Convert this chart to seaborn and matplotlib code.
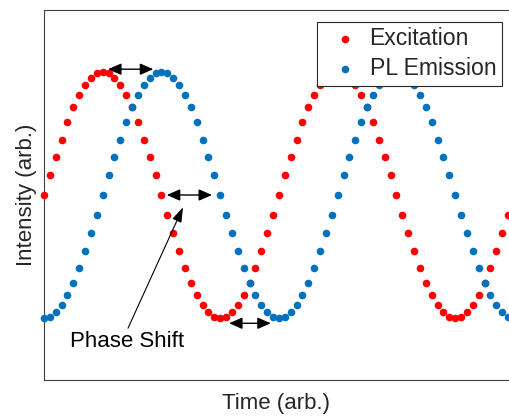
import matplotlib
matplotlib.use("Agg")
import matplotlib.pyplot as plt
import seaborn as sns
import numpy as np

# Sample values (intensity, arbitrary units)
excitation = [
    0.00, 0.16, 0.31, 0.45, 0.59, 0.71, 0.81, 0.89, 0.95, 0.99,
    1.00, 0.99, 0.95, 0.89, 0.81, 0.71, 0.59, 0.45, 0.31, 0.16,
    0.00, -0.16, -0.31, -0.45, -0.59, -0.71, -0.81, -0.89, -0.95, -0.99,
    -1.00, -0.99, -0.95, -0.89, -0.81, -0.71, -0.59, -0.45, -0.31, -0.16,
    0.00, 0.16, 0.31, 0.45, 0.59, 0.71, 0.81, 0.89, 0.95, 0.99,
    1.00, 0.99, 0.95, 0.89, 0.81, 0.71, 0.59, 0.45, 0.31, 0.16,
    0.00, -0.16, -0.31, -0.45, -0.59, -0.71, -0.81, -0.89, -0.95, -0.99,
    -1.00, -0.99, -0.95, -0.89, -0.81, -0.71, -0.59, -0.45, -0.31, -0.16,
]
pl_emission = [
    -1.00, -0.99, -0.95, -0.89, -0.81, -0.71, -0.59, -0.45, -0.31, -0.16,
    0.00, 0.16, 0.31, 0.45, 0.59, 0.71, 0.81, 0.89, 0.95, 0.99,
    1.00, 0.99, 0.95, 0.89, 0.81, 0.71, 0.59, 0.45, 0.31, 0.16,
    0.00, -0.16, -0.31, -0.45, -0.59, -0.71, -0.81, -0.89, -0.95, -0.99,
    -1.00, -0.99, -0.95, -0.89, -0.81, -0.71, -0.59, -0.45, -0.31, -0.16,
    0.00, 0.16, 0.31, 0.45, 0.59, 0.71, 0.81, 0.89, 0.95, 0.99,
    1.00, 0.99, 0.95, 0.89, 0.81, 0.71, 0.59, 0.45, 0.31, 0.16,
    0.00, -0.16, -0.31, -0.45, -0.59, -0.71, -0.81, -0.89, -0.95, -0.99,
]
time = np.arange(len(excitation))

# phase shift arrows: (start, end, level)
shift_arrows = [(10.9, 18.6, 1.02), (20.9, 28.6, 0.0), (31.5, 38.6, -1.04)]

sns.set_style("white")
plt.rcParams['font.family'] = ['Liberation Sans', 'DejaVu Sans']

fig = plt.figure(figsize=(5.09, 4.18), dpi=100)
ax = fig.add_axes([44 / 509, 1 - 380 / 418, 468 / 509, 370 / 418])

sns.scatterplot(x=time, y=excitation, color='#FF0000', s=30, linewidth=0,
                clip_on=False, zorder=3, label='Excitation', ax=ax)
sns.scatterplot(x=time, y=pl_emission, color='#0072BD', s=30, linewidth=0,
                clip_on=False, zorder=3, label='PL Emission', ax=ax)

ax.set_xlim(0, 79.66)
ax.set_ylim(-1.5, 1.5)
ax.set_xticks([])
ax.set_yticks([])
for side in ['left', 'bottom', 'top', 'right']:
    ax.spines[side].set_color('#404040')
    ax.spines[side].set_linewidth(0.8)

ax.set_xlabel('Time (arb.)', fontsize=16, color='#262626')
ax.set_ylabel('Intensity (arb.)', fontsize=16, color='#262626')
ax.xaxis.set_label_coords(0.496, -0.034)
ax.yaxis.set_label_coords(-0.016, 0.5)

for x0, x1, yv in shift_arrows:
    ax.annotate('', xy=(x1, yv), xytext=(x0, yv),
                arrowprops=dict(arrowstyle='<|-|>,head_length=0.8,head_width=0.35',
                                color='black', lw=1, shrinkA=0, shrinkB=0,
                                mutation_scale=10))

ax.annotate('', xy=(23.66, -0.10), xytext=(14.3, -1.08),
            arrowprops=dict(arrowstyle='-|>,head_length=0.9,head_width=0.3',
                            color='black', lw=0.8, shrinkA=0, shrinkB=0,
                            mutation_scale=10))
ax.text(4.43, -1.232, 'Phase Shift', fontsize=16, color='black',
        ha='left', va='baseline')

leg = ax.legend(loc='upper right', bbox_to_anchor=(502 / 509, 1 - 21.7 / 418),
                bbox_transform=fig.transFigure, fontsize=16.6, frameon=True,
                fancybox=False, framealpha=1, edgecolor='#262626',
                borderpad=0.25, labelspacing=0.3, handlelength=1.92,
                handletextpad=0.1, borderaxespad=0, scatterpoints=1)
leg.get_frame().set_linewidth(0.8)

fig.savefig('out.png', dpi=100)
